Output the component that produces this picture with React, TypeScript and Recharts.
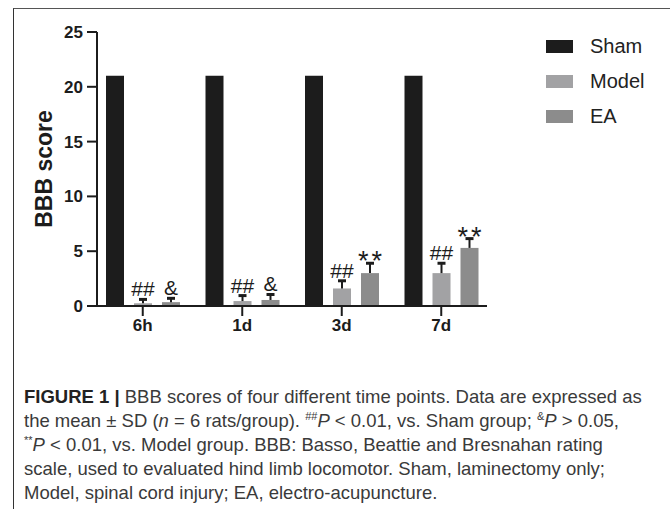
import { BarChart, Bar, XAxis, YAxis, Legend } from 'recharts';

const categories = ['6h', '1d', '3d', '7d'];
const shamScores = [21, 21, 21, 21];
const modelScores = [0.25, 0.45, 1.6, 3.0];
const modelSd = [0.35, 0.5, 0.7, 0.9];
const eaScores = [0.35, 0.55, 3.0, 5.3];
const eaSd = [0.35, 0.5, 0.9, 0.85];
const modelMarks = ['##', '##', '##', '##'];
const eaMarks = ['&', '&', '**', '**'];
const yTicks = [0, 5, 10, 15, 20, 25];
const groupOrder = ['Sham', 'Model', 'EA'];

const data = categories.map((name, i) => ({
  name,
  sham: shamScores[i],
  model: modelScores[i],
  modelSd: modelSd[i],
  modelMark: modelMarks[i],
  ea: eaScores[i],
  eaSd: eaSd[i],
  eaMark: eaMarks[i],
}));

const FONT = "'Liberation Sans', Arial, Helvetica, sans-serif";
const INK = '#1c1c1c';

// bar + one-sided (upward) error bar + significance mark
function barWithError(valueKey: string, sdKey: string, markKey: string) {
  return (props: any) => {
    const { x, y, width, height, fill, payload } = props;
    const v = payload[valueKey];
    const k = v > 0 ? height / v : 0;
    const top = y - payload[sdKey] * k;
    const cx = x + width / 2;
    const mark = payload[markKey];
    const stars = mark === '**';
    return (
      <g>
        <rect x={x} y={y} width={width} height={height} fill={fill} />
        <line x1={cx} x2={cx} y1={y} y2={top} stroke={INK} strokeWidth={2} />
        <line x1={cx - 4} x2={cx + 4} y1={top} y2={top} stroke={INK} strokeWidth={3} />
        <text
          x={cx + (stars ? 1.5 : 0)}
          y={stars ? top + 7 : top - 3}
          textAnchor="middle"
          fontFamily={FONT}
          fontSize={stars ? 27 : 21}
          letterSpacing={stars ? 3 : 0}
          fill={INK}
        >
          {mark}
        </text>
      </g>
    );
  };
}

function LegendBox(props: any) {
  const items = [...(props.payload || [])].sort(
    (a: any, b: any) => groupOrder.indexOf(a.value) - groupOrder.indexOf(b.value)
  );
  return (
    <div style={{ fontFamily: FONT }}>
      {items.map((p: any) => (
        <div key={p.value} style={{ display: 'flex', alignItems: 'center', height: 35 }}>
          <div style={{ width: 27, height: 13, background: p.color, marginRight: 17 }} />
          <span style={{ fontSize: 20, color: '#222' }}>{p.value}</span>
        </div>
      ))}
    </div>
  );
}

const supStyle = { fontSize: 11, lineHeight: 0 };

export default function App() {
  return (
    <div style={{ position: 'absolute', left: 0, top: 0, width: 670, height: 509, background: '#fff' }}>
      <div
        style={{
          position: 'absolute',
          left: 13,
          top: 8,
          right: 0,
          bottom: 0,
          borderTop: '1px solid #555',
          borderLeft: '1px solid #333',
        }}
      />
      <div style={{ position: 'absolute', left: 0, top: 0 }}>
        <BarChart
          width={670}
          height={360}
          data={data}
          margin={{ top: 32, right: 183, bottom: 24, left: 37 }}
          barSize={18}
          barGap={10}
        >
          <XAxis
            dataKey="name"
            padding={{ left: -4, right: -4 }}
            height={30}
            stroke={INK}
            strokeWidth={2}
            tickSize={10}
            tickMargin={3}
            tick={{ fontSize: 17, fontWeight: 700, fill: INK, fontFamily: FONT }}
          />
          <YAxis
            domain={[0, 25]}
            ticks={yTicks}
            width={60}
            stroke={INK}
            strokeWidth={2}
            tickSize={10}
            tickMargin={4}
            tick={{ fontSize: 17, fontWeight: 700, fill: INK, fontFamily: FONT }}
            label={{
              content: (p: any) => {
                const vb = p.viewBox;
                const cx = vb.x + 7;
                const cy = vb.y + vb.height / 2;
                return (
                  <text
                    x={cx}
                    y={cy}
                    transform={`rotate(-90 ${cx} ${cy})`}
                    textAnchor="middle"
                    dominantBaseline="central"
                    fontFamily={FONT}
                    fontWeight={700}
                    fontSize={23}
                    fill={INK}
                  >
                    BBB score
                  </text>
                );
              },
            }}
          />
          <Legend
            layout="vertical"
            align="center"
            verticalAlign="middle"
            content={<LegendBox />}
            wrapperStyle={{ left: 546, top: 29, width: 120 }}
          />
          <Bar dataKey="sham" name="Sham" fill={INK} isAnimationActive={false} />
          <Bar
            dataKey="model"
            name="Model"
            fill="#a2a2a4"
            isAnimationActive={false}
            shape={barWithError('model', 'modelSd', 'modelMark')}
          />
          <Bar
            dataKey="ea"
            name="EA"
            fill="#8c8c8c"
            isAnimationActive={false}
            shape={barWithError('ea', 'eaSd', 'eaMark')}
          />
        </BarChart>
      </div>
      <div
        style={{
          position: 'absolute',
          left: 24,
          top: 385,
          fontFamily: FONT,
          fontSize: 18.5,
          lineHeight: '24px',
          color: '#3a3a3a',
          whiteSpace: 'nowrap',
        }}
      >
        <div>
          <b style={{ color: '#222' }}>FIGURE 1 |</b> BBB scores of four different time points. Data are expressed as
        </div>
        <div>
          the mean ± SD (<i>n</i> = 6 rats/group). <sup style={supStyle}>##</sup>
          <i>P</i> &lt; 0.01, vs. Sham group; <sup style={supStyle}>&amp;</sup>
          <i>P</i> &gt; 0.05,
        </div>
        <div>
          <sup style={supStyle}>**</sup>
          <i>P</i> &lt; 0.01, vs. Model group. BBB: Basso, Beattie and Bresnahan rating
        </div>
        <div>scale, used to evaluated hind limb locomotor. Sham, laminectomy only;</div>
        <div>Model, spinal cord injury; EA, electro-acupuncture.</div>
      </div>
    </div>
  );
}
